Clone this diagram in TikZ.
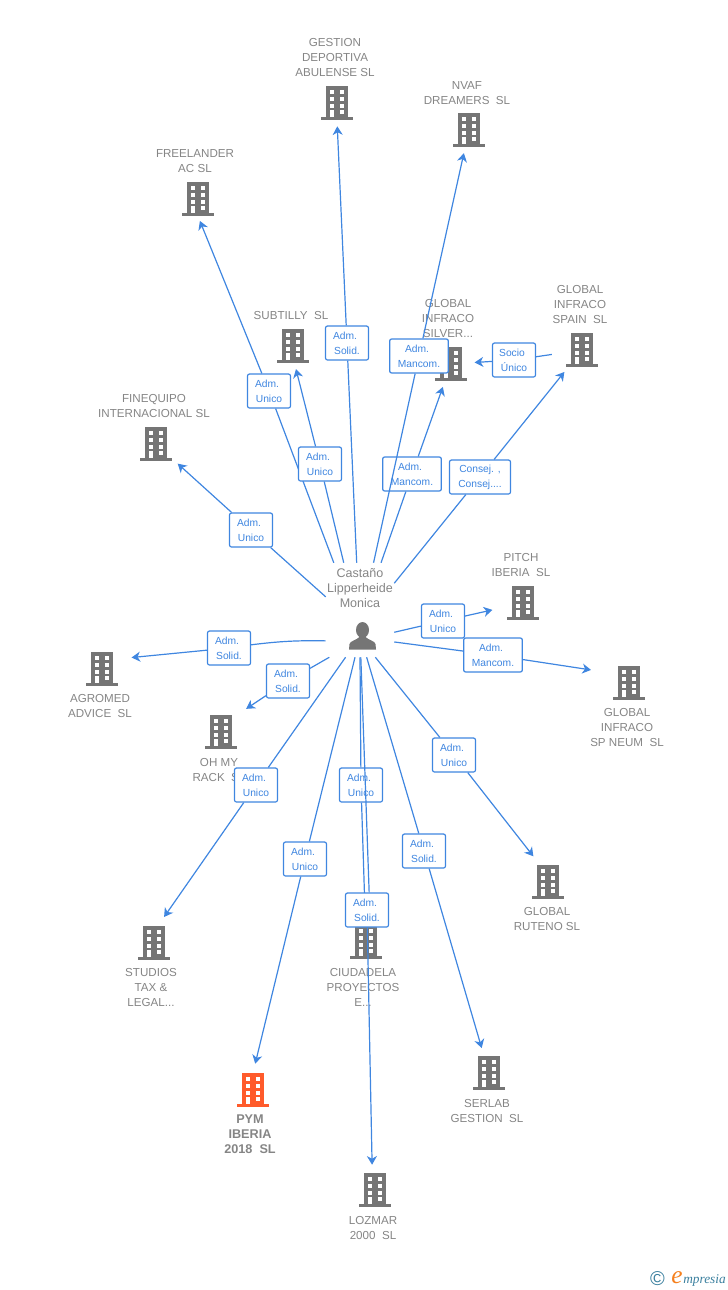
\documentclass[tikz,border=0pt]{standalone}
\usepackage{fontspec}
\setmainfont{Liberation Sans}
\newfontfamily\logofont{Liberation Serif}
\usetikzlibrary{arrows.meta}

\definecolor{linkBlue}{HTML}{3F86E0}
\definecolor{bldgGrey}{HTML}{757575}
\definecolor{textGrey}{HTML}{858585}
\definecolor{pymOrange}{HTML}{FF5B2B}
\definecolor{logoTeal}{HTML}{3A7F9E}
\definecolor{logoOrange}{HTML}{F5801E}

\newcommand{\adm}{Adm.\kern3pt}

% building icon, drawn around the middle of its node
\newcommand{\bldgShape}[1]{
  \begin{scope}[shift={(path picture bounding box.center)}]
    \fill[#1] (-11,-17) rectangle (11,14);
    \fill[#1] (-16,14) rectangle (16,17);
    \foreach \ypos in {-12.7,-6,0.7} {
      \fill[white] (-7.5,\ypos) rectangle +(4.5,4);
      \fill[white] (2.5,\ypos) rectangle +(4.5,4);
    }
    \fill[white] (-7.5,7.3) rectangle (-3,14);
    \fill[white] (2.5,7.3) rectangle (7,11.3);
  \end{scope}
}

\tikzset{
  >={Stealth[length=6.5pt,width=7.5pt,inset=2pt]},
  bldgNode/.style={rectangle, inner sep=0pt, minimum width=24pt, minimum height=25.5pt,
    path picture={\bldgShape{#1}}},
  bldgNode/.default=bldgGrey,
  coText/.style={inner sep=0pt, align=center, text=textGrey,
    font=\fontsize{8.7}{11.25}\selectfont},
  relLabel/.style={rectangle, draw=linkBlue, fill=white, line width=0.9pt, rounded corners=1.5pt,
    inner sep=0pt, minimum width=#1, minimum height=25.5pt, align=center, text=linkBlue,
    font=\fontsize{7.7}{11.25}\selectfont},
  relLabel/.default=32.25pt,
  link/.style={draw=linkBlue, line width=0.9pt},
  arrowLink/.style={link, ->, shorten >=#1},
  arrowLink/.default=4.5pt
}

\begin{document}
\begin{tikzpicture}[x=0.75pt, y=-0.75pt]
        \useasboundingbox (0,0) rectangle (728,1290);

        \node[bldgNode] (gestionNode) at (337,103) {};
        \node[bldgNode] (nvafNode) at (469,130) {};
        \node[bldgNode] (freelanderNode) at (198,199) {};
        \node[bldgNode] (subtillyNode) at (293,346) {};
        \node[bldgNode] (silverNode) at (451,364) {};
        \node[bldgNode] (spainNode) at (582,350) {};
        \node[bldgNode] (finequipoNode) at (156,444) {};
        \node[bldgNode] (pitchNode) at (523,603) {};
        \node[bldgNode] (agromedNode) at (102,669) {};
        \node[bldgNode] (neumNode) at (629,683) {};
        \node[bldgNode] (ohmyNode) at (221,732) {};
        \node[bldgNode] (rutenoNode) at (548,882) {};
        \node[bldgNode] (studiosNode) at (154,943) {};
        \node[bldgNode] (ciudadelaNode) at (366,942) {};
        \node[bldgNode] (serlabNode) at (489,1073) {};
        \node[bldgNode=pymOrange] (pymNode) at (253,1090) {};
        \node[bldgNode] (lozmarNode) at (375,1190) {};

        \node[coText] (gestionText) at (335,57.5) {GESTION\\DEPORTIVA\\ABULENSE SL};
        \node[coText] (nvafText) at (467,93) {NVAF\\DREAMERS~~SL};
        \node[coText] (freelanderText) at (195,161) {FREELANDER\\AC SL};
        \node[coText] (subtillyText) at (291,315.5) {SUBTILLY~~SL};
        \node[coText] (silverText) at (448,318.5) {GLOBAL\\INFRACO\\SILVER...};
        \node[coText] (spainText) at (580,304.5) {GLOBAL\\INFRACO\\SPAIN~~SL};
        \node[coText] (finequipoText) at (154,406) {FINEQUIPO\\INTERNACIONAL SL};
        \node[coText] (pitchText) at (521,565) {PITCH\\IBERIA~~SL};
        \node[coText] (agromedText) at (100,706) {AGROMED\\ADVICE~~SL};
        \node[coText] (neumText) at (627,727.5) {GLOBAL\\INFRACO\\SP NEUM~~SL};
        \node[coText] (ohmyText) at (219,770) {OH MY\\RACK~~SL};
        \node[coText] (rutenoText) at (547,919) {GLOBAL\\RUTENO SL};
        \node[coText] (studiosText) at (151,987.5) {STUDIOS\\TAX \&\\LEGAL...};
        \node[coText] (ciudadelaText) at (363,987.5) {CIUDADELA\\PROYECTOS\\E...};
        \node[coText] (serlabText) at (487,1111) {SERLAB\\GESTION~~SL};
        \node[coText, font=\fontsize{9.5}{11.25}\selectfont\bfseries] (pymText) at (250,1134.5) {PYM\\IBERIA\\2018~~SL};
        \node[coText] (lozmarText) at (373,1228) {LOZMAR\\2000~~SL};

        % the person: the lines start on the border of personNode
        \node[rectangle, inner sep=0pt, minimum width=51pt, minimum height=70.5pt] (personNode) at (360,610) {};
        \node[coText, font=\fontsize{9.4}{11.25}\selectfont] (personText) at (360,588) {Castaño\\Lipperheide\\Monica};
        \node[rectangle, inner sep=0pt, minimum size=21pt, path picture={
            \begin{scope}[shift={(path picture bounding box.center)}]
              \fill[bldgGrey] (0,-6) ellipse [x radius=6.5, y radius=8];
              \fill[bldgGrey] (-13.5,13.5) -- (-13,8) .. controls (-12.5,5) and (-6,4) .. (-3,1) -- (3,1)
                .. controls (6,4) and (12.5,5) .. (13,8) -- (13.5,13.5) -- cycle;
            \end{scope}}] (personIcon) at (362.5,636) {};

        % labels and lines, in the order they overlap
        \node[relLabel] (freelanderLabel) at (269,391) {\adm\\Unico};
        \draw (personNode.119) edge[link] (freelanderLabel);
        \draw (freelanderLabel) edge[arrowLink=3.75pt] (freelanderNode.south);

        \node[relLabel] (subtillyLabel) at (320,464) {\adm\\Unico};
        \draw (personNode.109) edge[link] (subtillyLabel);
        \draw (subtillyLabel) edge[arrowLink] (subtillyNode.275);

        \node[relLabel] (gestionLabel) at (347,343) {\adm\\Solid.};
        \draw (personNode.94) edge[link] (gestionLabel);
        \draw (gestionLabel) edge[arrowLink] (gestionNode.south);

        \node[relLabel=44pt] (silverLabel) at (412,474) {\adm\\Mancom.};
        \draw (personNode.66) edge[link] (silverLabel);
        \draw (silverLabel) edge[arrowLink] (silverNode);

        \node[relLabel=44pt] (nvafLabel) at (419,356) {\adm\\Mancom.};
        \draw (personNode.74) edge[link] (nvafLabel);
        \draw (nvafLabel) edge[arrowLink] (nvafNode);

        \node[relLabel=45.75pt] (spainLabel) at (480,477) {Consej. ,\\Consej....};
        \draw (personNode.38) edge[link] (spainLabel);
        \draw (spainLabel) edge[arrowLink] (spainNode);

        \node[relLabel] (socioLabel) at (514,360) {Socio\kern3pt\\Único};
        \draw (spainNode) edge[link, shorten <=10.5pt] (socioLabel);
        \draw (socioLabel) edge[arrowLink=5.5pt] (silverNode);

        \node[relLabel] (finequipoLabel) at (251,530) {\adm\\Unico};
        \draw (personNode.159) edge[link] (finequipoLabel);
        \draw (finequipoLabel) edge[arrowLink=5.5pt] (finequipoNode);

        \node[relLabel] (agromedLabel) at (229,648) {\adm\\Solid.};
        \draw (personNode.222) edge[link, bend right=4] (agromedLabel);
        \draw (agromedLabel) edge[arrowLink=10pt] (agromedNode.32);

        \node[relLabel] (ohmyLabel) at (288,681) {\adm\\Solid.};
        \draw (personNode.237) edge[link] (ohmyLabel);
        \draw (ohmyLabel) edge[arrowLink=8pt] (ohmyNode.north east);

        \node[relLabel] (studiosLabel) at (256,785) {\adm\\Unico};
        \draw (personNode.253) edge[link] (studiosLabel);
        \draw (studiosLabel) edge[arrowLink=8pt] (studiosNode.77);

        \node[relLabel] (pymLabel) at (305,859) {\adm\\Unico};
        \draw (personNode.264) edge[link] (pymLabel);
        \draw (pymLabel) edge[arrowLink=7pt] (pymNode.north);

        \node[relLabel] (ciudadelaLabel) at (361,785) {\adm\\Unico};
        \draw (personNode.270) edge[link] (ciudadelaLabel);
        \draw (ciudadelaLabel) edge[arrowLink=15pt] (ciudadelaNode);

        \node[relLabel] (lozmarLabel) at (367,910) {\adm\\Solid.};
        \draw (personNode.271) edge[link] (lozmarLabel.83);
        \draw (lozmarLabel) edge[arrowLink=6pt] (lozmarNode.99);

        \node[relLabel] (serlabLabel) at (424,851) {\adm\\Solid.};
        \draw (personNode.278) edge[link] (serlabLabel);
        \draw (serlabLabel) edge[arrowLink=6pt] (serlabNode);

        \node[relLabel] (rutenoLabel) at (454,755) {\adm\\Unico};
        \draw (personNode.288) edge[link] (rutenoLabel);
        \draw (rutenoLabel) edge[arrowLink=8pt] (rutenoNode.115);

        \node[relLabel=44pt] (neumLabel) at (493,655) {\adm\\Mancom.};
        \draw (personNode.317) edge[link] (neumLabel);
        \draw (neumLabel) edge[arrowLink=16.5pt] (neumNode.149);

        \node[relLabel] (pitchLabel) at (443,621) {\adm\\Unico};
        \draw (personNode.327) edge[link] (pitchLabel);
        \draw (pitchLabel) edge[arrowLink=11pt] (pitchNode);

        % logo
        \node[inner sep=0pt, text=logoTeal, font=\fontsize{15}{15}\selectfont] (logoSign) at (657.5,1279) {©};
        \node[inner sep=0pt, anchor=base east, text=logoTeal, font=\logofont\itshape\fontsize{10}{10}\selectfont] (logoName) at (726,1283) {mpresia};
        \node[inner sep=0pt, anchor=base east, text=logoOrange, font=\logofont\itshape\fontsize{19}{19}\selectfont] (logoLetter) at (logoName.base west) {e};
      \end{tikzpicture}
\end{document}
